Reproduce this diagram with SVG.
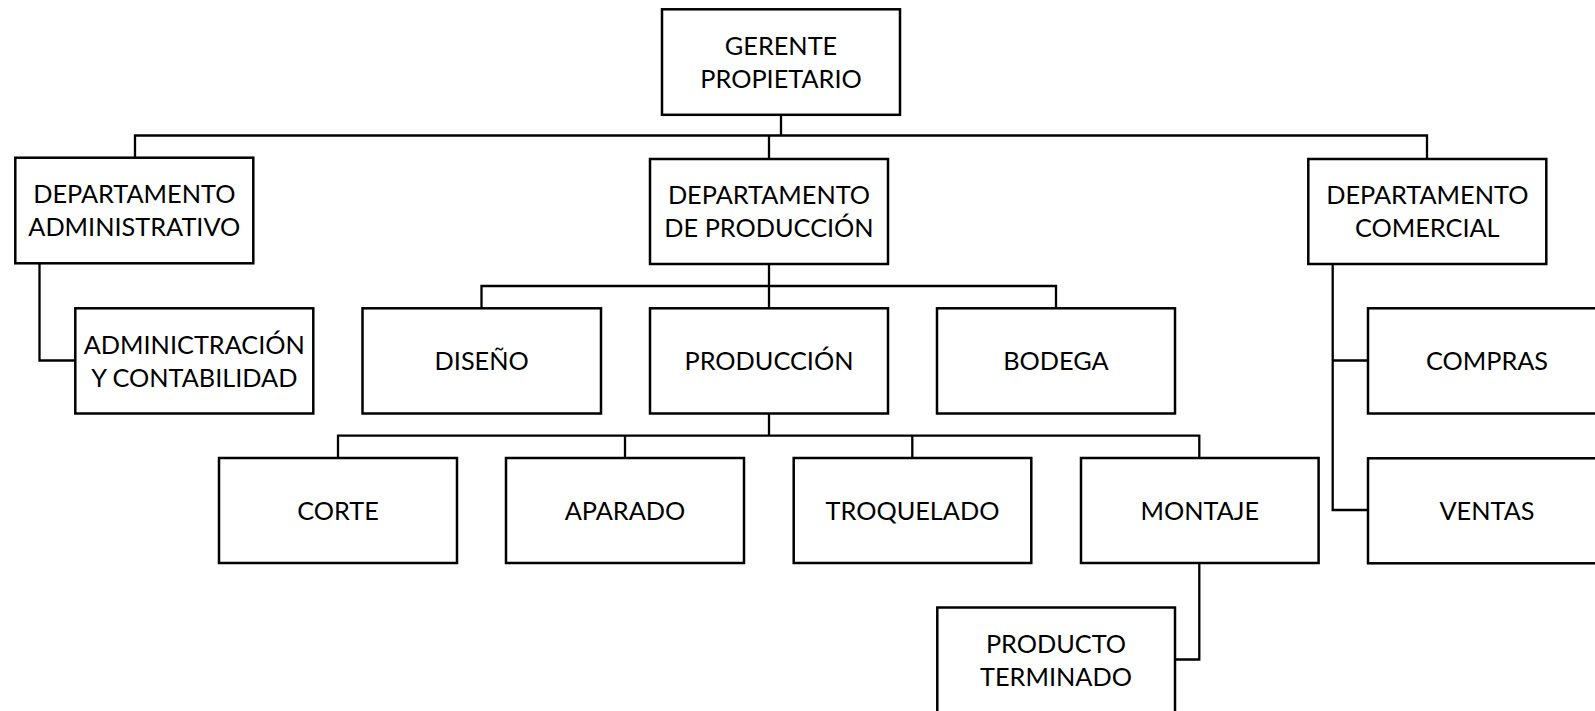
<svg xmlns="http://www.w3.org/2000/svg" width="1595" height="711" viewBox="0 0 1595 711">
<style>
  .box { fill: #ffffff; stroke: #000000; stroke-width: 2.5; }
  .conn { fill: none; stroke: #000000; stroke-width: 2.3; stroke-linejoin: miter; stroke-linecap: square; }
  .lbl { font-family: Lato, "Liberation Sans", sans-serif; font-size: 25.3px; fill: #000000; text-anchor: middle; }
</style>
<rect x="0" y="0" width="1595" height="711" fill="#ffffff"/>
<g id="connectors">
  <path class="conn" d="M781,115 V135.5 M135,158 V135.5 H1427 V159 M769,135.5 V159"/>
  <path class="conn" d="M39.5,263.5 V360.5 H75"/>
  <path class="conn" d="M769,264 V286 M481.5,308 V286 H1056 V308 M769,286 V308"/>
  <path class="conn" d="M769,413.5 V435.7 M338,458 V435.7 H1199.3 V458 M625,435.7 V458 M912.3,435.7 V458"/>
  <path class="conn" d="M1199.3,563 V659.5 H1175"/>
  <path class="conn" d="M1332.7,264 V510 H1368 M1332.7,360.5 H1368"/>
</g>
<g id="gerente">
  <rect class="box" x="662" y="9.3" width="238" height="105.5"/>
  <text class="lbl" x="781" y="55">GERENTE</text>
  <text class="lbl" x="781" y="88">PROPIETARIO</text>
</g>
<g id="dep-administrativo">
  <rect class="box" x="15.3" y="157.7" width="238" height="105.6"/>
  <text class="lbl" x="134.3" y="203.3">DEPARTAMENTO</text>
  <text class="lbl" x="134.3" y="236">ADMINISTRATIVO</text>
</g>
<g id="dep-produccion">
  <rect class="box" x="650" y="159" width="238" height="105"/>
  <text class="lbl" x="769" y="204">DEPARTAMENTO</text>
  <text class="lbl" x="769" y="237">DE PRODUCCIÓN</text>
</g>
<g id="dep-comercial">
  <rect class="box" x="1308.3" y="159" width="238" height="105"/>
  <text class="lbl" x="1427.3" y="204">DEPARTAMENTO</text>
  <text class="lbl" x="1427.3" y="237">COMERCIAL</text>
</g>
<g id="admin-contabilidad">
  <rect class="box" x="75.3" y="308.3" width="238" height="105.2"/>
  <text class="lbl" x="194.3" y="353.5">ADMINICTRACIÓN</text>
  <text class="lbl" x="194.3" y="386.5">Y CONTABILIDAD</text>
</g>
<g id="diseno">
  <rect class="box" x="362.5" y="308.3" width="238.5" height="105.2"/>
  <text class="lbl" x="481.7" y="370">DISEÑO</text>
</g>
<g id="produccion">
  <rect class="box" x="650" y="308.3" width="238" height="105.2"/>
  <text class="lbl" x="769" y="370">PRODUCCIÓN</text>
</g>
<g id="bodega">
  <rect class="box" x="937" y="308.3" width="238" height="105.2"/>
  <text class="lbl" x="1056" y="370">BODEGA</text>
</g>
<g id="compras">
  <rect class="box" x="1368" y="308.3" width="238" height="105.2"/>
  <text class="lbl" x="1487" y="370">COMPRAS</text>
</g>
<g id="corte">
  <rect class="box" x="219" y="458" width="238" height="105"/>
  <text class="lbl" x="338" y="520">CORTE</text>
</g>
<g id="aparado">
  <rect class="box" x="506" y="458" width="238" height="105"/>
  <text class="lbl" x="625" y="520">APARADO</text>
</g>
<g id="troquelado">
  <rect class="box" x="793.7" y="458" width="237.6" height="105"/>
  <text class="lbl" x="912.5" y="520">TROQUELADO</text>
</g>
<g id="montaje">
  <rect class="box" x="1081" y="458" width="237.6" height="105"/>
  <text class="lbl" x="1199.8" y="520">MONTAJE</text>
</g>
<g id="ventas">
  <rect class="box" x="1368" y="458.3" width="238" height="105"/>
  <text class="lbl" x="1487" y="520">VENTAS</text>
</g>
<g id="producto-terminado">
  <rect class="box" x="937.3" y="607.5" width="237.7" height="106"/>
  <text class="lbl" x="1056" y="653.3">PRODUCTO</text>
  <text class="lbl" x="1056" y="685.5">TERMINADO</text>
</g>
</svg>
